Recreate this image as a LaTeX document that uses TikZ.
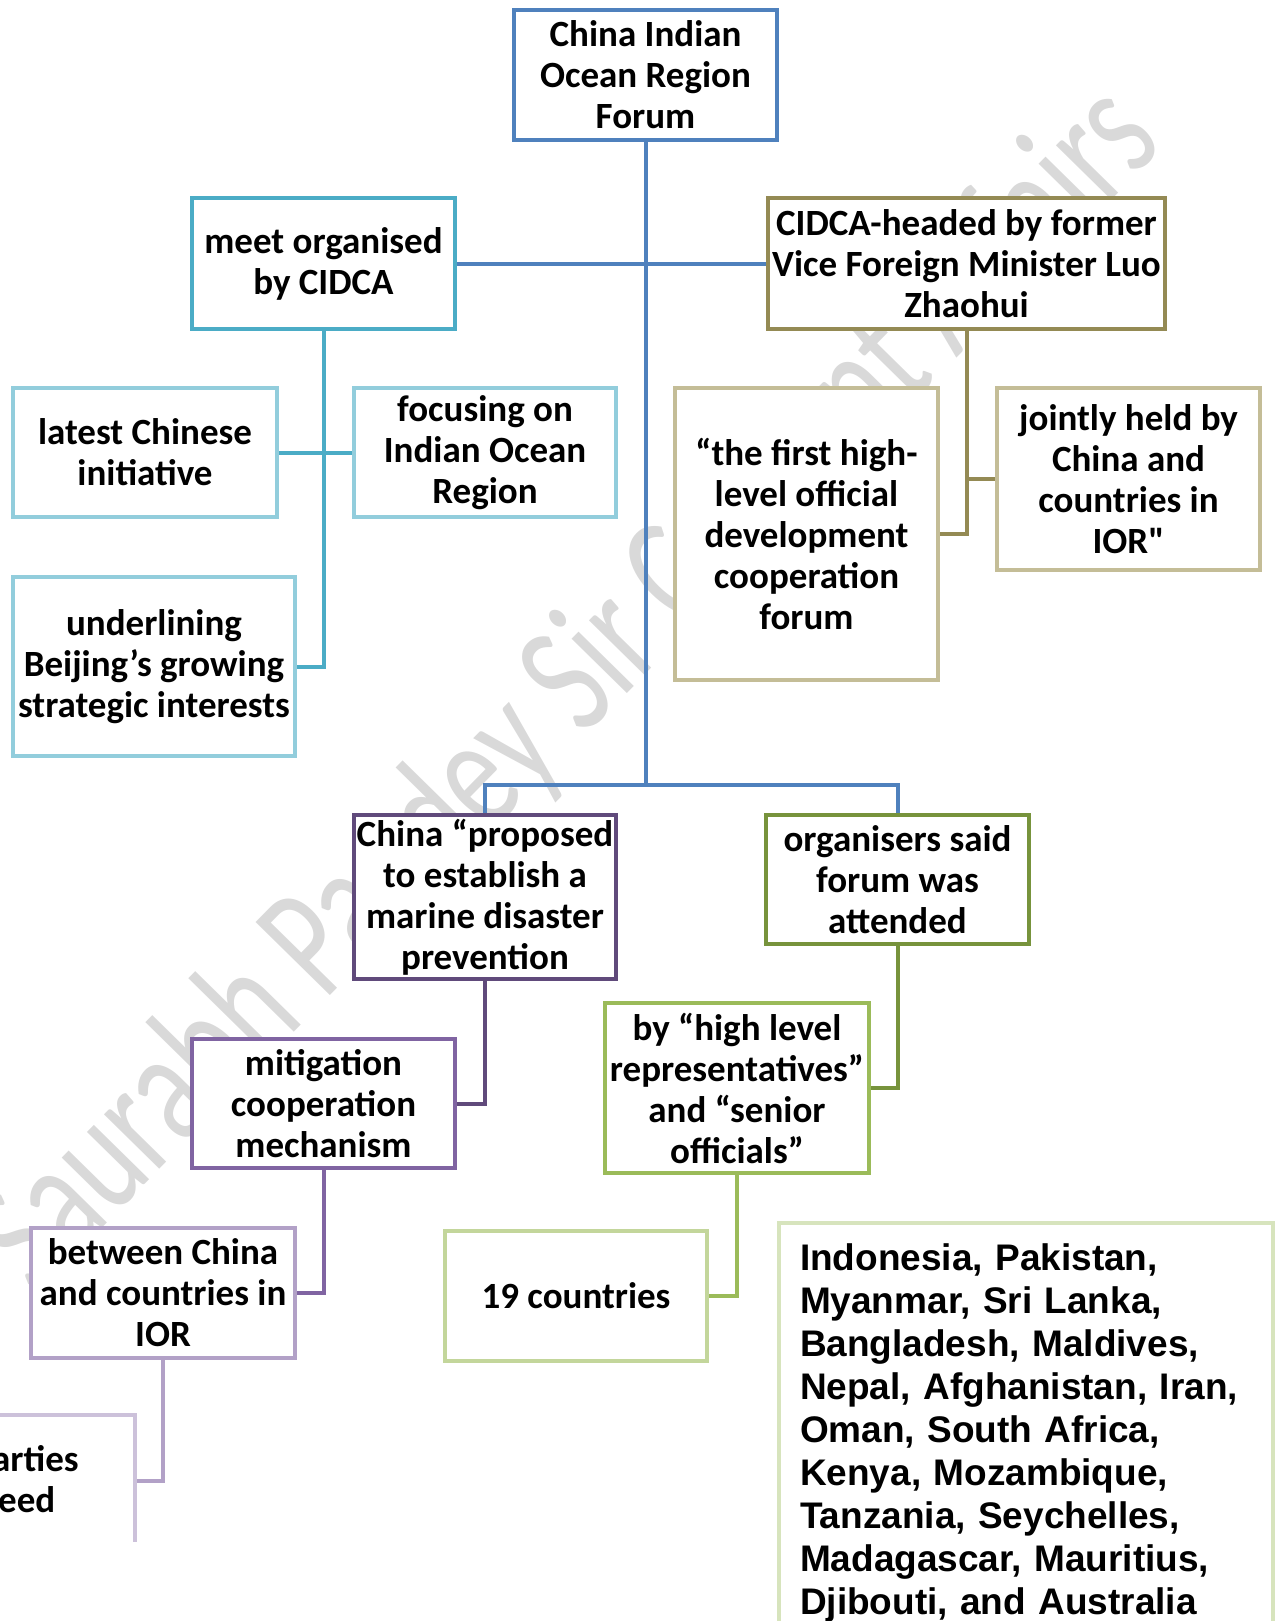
\documentclass[tikz,border=0pt]{standalone}
\usepackage{fontspec}
\newfontfamily\calibri{Carlito}
\newfontfamily\arial{Liberation Sans}
\usetikzlibrary{calc}

\definecolor{rootblue}{HTML}{4F81BD}
\definecolor{aquadark}{HTML}{4BACC6}
\definecolor{aqualight}{HTML}{92CDDC}
\definecolor{olivedark}{HTML}{948A54}
\definecolor{olivelight}{HTML}{C4BD97}
\definecolor{purpledark}{HTML}{604A7B}
\definecolor{purplemid}{HTML}{8064A2}
\definecolor{purplelight}{HTML}{B2A1C7}
\definecolor{purplepale}{HTML}{CCC1DA}
\definecolor{greendark}{HTML}{77933C}
\definecolor{greenmid}{HTML}{9BBB59}
\definecolor{greenlight}{HTML}{C3D69B}
\definecolor{greenpale}{HTML}{D7E4BD}
\definecolor{wmgray}{HTML}{D9D9D9}

\tikzset{
  box/.style={draw=#1, line width=4pt, fill=white, align=center, inner sep=0pt,
    minimum width=263pt, minimum height=130pt,
    font=\calibri\bfseries\fontsize{37}{41}\selectfont},
  conn/.style={draw=#1, line width=4pt},
  mark text/.style={font=\calibri\fontsize{116}{116}\selectfont, text=wmgray}
}

\begin{document}
\begin{tikzpicture}[x=1pt,y=-1pt]
\useasboundingbox (0,0) rectangle (1275,1621);

% watermark behind everything
\node[mark text, rotate=45.5] (mark) at (570,690) {\scalebox{1}[1.4]{Saurabh Pandey Sir Current Affairs}};

% top level
\node[box=rootblue] (root) at (645.5,75) {China Indian\\Ocean Region\\Forum};
\node[box=aquadark, minimum height=131pt] (meet) at (323.5,263.5) {meet organised\\by CIDCA};
\node[box=olivedark, minimum width=397pt, minimum height=131pt] (cidca) at (966.5,263.5) {CIDCA-headed by former\\Vice Foreign Minister Luo\\Zhaohui};

% under meet
\node[box=aqualight, minimum width=264pt, minimum height=129pt] (latest) at (145,452.5) {latest Chinese\\initiative};
\node[box=aqualight, minimum width=262pt, minimum height=129pt] (focus) at (485,452.5) {focusing on\\Indian Ocean\\Region};
\node[box=aqualight, minimum width=282pt, minimum height=179pt] (under) at (154,666.5) {underlining\\Beijing’s growing\\strategic interests};

% under cidca
\node[box=olivelight, minimum height=292pt] (firsthigh) at (806.5,534) {“the first high-\\level official\\development\\cooperation\\forum};
\node[box=olivelight, minimum height=182pt] (jointly) at (1128.5,479) {jointly held by\\China and\\countries in\\IOR\char34};

% lower half
\coordinate (bus) at (645.5,785);
\node[box=purpledark, minimum width=262pt, minimum height=164pt] (proposed) at (485,897) {China “proposed\\to establish a\\marine disaster\\prevention};
\node[box=greendark, minimum height=129pt] (organisers) at (897.5,879.5) {organisers said\\forum was\\attended};
\node[box=purplemid, minimum height=129pt] (mitig) at (323.5,1103.5) {mitigation\\cooperation\\mechanism};
\node[box=greenmid, minimum width=264pt, minimum height=170pt] (byhigh) at (737,1088) {by “high level\\representatives”\\and “senior\\officials”};
\node[box=purplelight, minimum width=264pt] (between) at (163,1293) {between China\\and countries in\\IOR};
\node[box=greenlight, minimum width=262pt] (nineteen) at (576,1296) {19 countries};

% list of countries, runs off the page
\node[draw=greenpale, line width=4pt, fill=white, anchor=north west, inner xsep=21pt, inner ysep=21pt,
  text width=452pt, align=left, font=\arial\bfseries\fontsize{37}{43}\selectfont] (list) at (777,1221)
  {Indonesia, Pakistan,\\Myanmar, Sri Lanka,\\Bangladesh, Maldives,\\Nepal, Afghanistan, Iran,\\Oman, South Africa,\\Kenya, Mozambique,\\Tanzania, Seychelles,\\Madagascar, Mauritius,\\Djibouti, and Australia};

% cut-off box bottom left
\begin{scope}
\clip (-10,0) rectangle (300,1541);
\node[box=purplepale, minimum width=270pt, minimum height=132pt] (parties) at (0,1481) {};
\end{scope}
\node[font=\calibri\bfseries\fontsize{37}{41}\selectfont, anchor=base west, inner sep=0pt] (partiesa) at (-8,1471) {arties};
\node[font=\calibri\bfseries\fontsize{37}{41}\selectfont, anchor=base west, inner sep=0pt] (partiesb) at (-2,1512) {eed};

% connectors
\draw[conn=rootblue] (root.south) -- (bus);
\draw[conn=rootblue] (meet.east) -- (cidca.west);
\draw[conn=rootblue] (proposed.north) |- (bus) -| (organisers.north);
\draw[conn=aquadark] (meet.south) |- (latest.east);
\draw[conn=aquadark] (meet.south) |- (focus.west);
\draw[conn=aquadark] (meet.south) |- (under.east);
\draw[conn=olivedark] (cidca.south) |- (firsthigh.east);
\draw[conn=olivedark] (cidca.south) |- (jointly.west);
\draw[conn=purpledark] (proposed.south) |- (mitig.east);
\draw[conn=purplemid] (mitig.south) |- (between.east);
\draw[conn=purplelight] (between.south) |- (parties.east);
\draw[conn=greendark] (organisers.south) |- (byhigh.east);
\draw[conn=greenmid] (byhigh.south) |- (nineteen.east);
\end{tikzpicture}
\end{document}
